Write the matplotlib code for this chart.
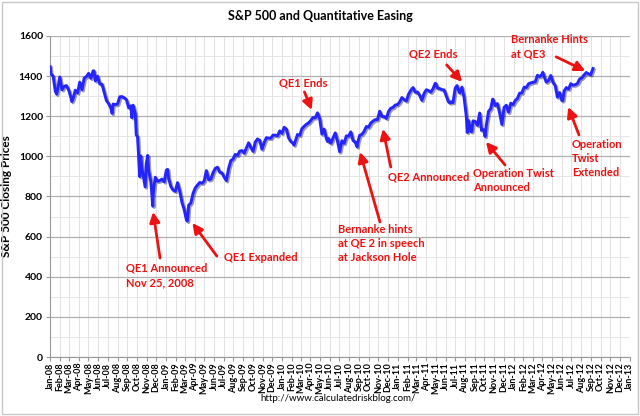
import numpy as np
import pandas as pd
import matplotlib
matplotlib.use("Agg")
import matplotlib.pyplot as plt
import matplotlib.dates as mdates
import matplotlib.patheffects as pe
from matplotlib.patches import Rectangle

plt.rcParams["font.family"] = ["Lato", "DejaVu Sans"]

# weekly closes (Fridays)
close_2008 = [1411, 1401, 1325, 1331, 1396, 1332, 1349, 1353, 1331, 1294, 1288, 1330, 1316,
              1370, 1332, 1390, 1398, 1414, 1389, 1426, 1376, 1400, 1361, 1360, 1318, 1278,
              1263, 1240, 1261, 1258, 1261, 1297, 1298, 1292, 1283, 1242, 1252, 1255, 1213,
              1099, 899, 940, 877, 968, 930, 873, 800, 896, 876, 879, 887, 873]
close_2009 = [932, 890, 850, 832, 826, 869, 827, 770, 735, 683, 756, 768, 816, 843, 857, 870,
              866, 877, 929, 883, 887, 919, 940, 946, 921, 918, 896, 879, 940, 979, 987, 1010,
              1005, 1026, 1029, 1016, 1042, 1068, 1044, 1025, 1071, 1087, 1080, 1036, 1069,
              1093, 1091, 1091, 1106, 1106, 1102, 1127]
close_2010 = [1115, 1145, 1136, 1092, 1074, 1066, 1075, 1109, 1105, 1138, 1150, 1160, 1167,
              1179, 1194, 1192, 1217, 1187, 1111, 1136, 1088, 1089, 1065, 1092, 1117, 1076,
              1023, 1078, 1065, 1102, 1101, 1122, 1079, 1071, 1065, 1105, 1110, 1125, 1149,
              1146, 1166, 1176, 1183, 1183, 1225, 1199, 1199, 1189, 1224, 1240, 1244, 1256, 1258]
close_2011 = [1271, 1293, 1283, 1276, 1310, 1329, 1343, 1320, 1321, 1304, 1279, 1314, 1332,
              1328, 1320, 1337, 1364, 1340, 1338, 1333, 1331, 1300, 1271, 1272, 1268, 1340,
              1344, 1316, 1345, 1292, 1199, 1179, 1124, 1177, 1174, 1154, 1216, 1136, 1131,
              1155, 1224, 1238, 1285, 1253, 1263, 1216, 1159, 1244, 1255, 1220, 1265, 1258]
close_2012 = [1278, 1289, 1315, 1316, 1345, 1343, 1362, 1366, 1370, 1371, 1404, 1397, 1408,
              1398, 1370, 1378, 1403, 1369, 1353, 1295, 1318, 1278, 1325, 1343, 1335, 1362,
              1355, 1357, 1363, 1386, 1391, 1406, 1418, 1411, 1407, 1438]

# intra-week extremes visible on the daily line
extra_dates = ["2008-01-02", "2008-01-22", "2008-03-10", "2008-05-19", "2008-07-15",
               "2008-09-15", "2008-09-29", "2008-10-13", "2008-10-27", "2008-11-04",
               "2008-11-20", "2008-11-24", "2009-01-06", "2009-03-09", "2010-02-08",
               "2010-05-25", "2010-08-26", "2011-05-02", "2011-06-15", "2011-07-07",
               "2011-08-08", "2011-08-22", "2011-09-22", "2011-10-03", "2011-10-27",
               "2012-04-02", "2012-06-04"]
extra_vals = [1447, 1310, 1273, 1426, 1214, 1193, 1106, 1003, 848, 1005, 752, 852, 935,
              677, 1056, 1074, 1047, 1361, 1266, 1353, 1119, 1123, 1129, 1099, 1285,
              1419, 1278]

weekly_vals = close_2008 + close_2009 + close_2010 + close_2011 + close_2012
weekly_dates = pd.date_range("2008-01-04", periods=len(weekly_vals), freq="W-FRI")
s = pd.concat([pd.Series(weekly_vals, index=weekly_dates),
               pd.Series(extra_vals, index=pd.to_datetime(extra_dates))]).sort_index()

# annotations: text, text anchor (date, value), arrow tail, arrow tip
notes = [
    ("QE1 Announced\nNov 25, 2008", ("2008-08-27", 469), ("2008-12-13", 493), ("2008-11-21", 723)),
    ("QE1 Expanded", ("2009-07-04", 494), ("2009-06-10", 503), ("2009-03-25", 668)),
    ("QE1 Ends", ("2009-12-22", 1366), ("2010-03-13", 1321), ("2010-04-05", 1231)),
    ("Bernanke hints\nat QE 2 in speech\nat Jackson Hole", ("2010-06-26", 663), ("2010-11-06", 673), ("2010-09-04", 1022)),
    ("QE2 Announced", ("2010-12-01", 897), ("2010-12-10", 947), ("2010-11-15", 1137)),
    ("QE2 Ends", ("2011-02-06", 1510), ("2011-06-04", 1456), ("2011-07-23", 1371)),
    ("Operation Twist\nAnnounced", ("2011-08-27", 942), ("2011-12-05", 957), ("2011-10-06", 1072)),
    ("Bernanke Hints\nat QE3", ("2011-12-24", 1610), ("2012-05-14", 1496), ("2012-08-14", 1426)),
    ("Operation\nTwist\nExtended", ("2012-07-03", 1087), ("2012-07-25", 1107), ("2012-06-21", 1246)),
]

fig = plt.figure(figsize=(6.4, 4.16), dpi=100)
ax = fig.add_axes([0.078, 0.1418, 0.906, 0.7717])

ax.plot(s.index, s.values, color="#2424ff", lw=2.1, solid_joinstyle="round",
        path_effects=[pe.SimpleLineShadow(offset=(1, -1), shadow_color="#000050", alpha=0.4),
                      pe.Normal()], zorder=3)

ax.set_xlim(pd.Timestamp("2008-01-01"), pd.Timestamp("2013-01-01"))
ax.set_ylim(0, 1600)
ax.set_yticks(np.arange(0, 1601, 200))
ax.set_yticks(np.arange(100, 1600, 200), minor=True)
ax.xaxis.set_major_locator(mdates.MonthLocator())
ax.xaxis.set_major_formatter(mdates.DateFormatter("%b-%y"))
ax.tick_params(axis="x", labelrotation=90, labelsize=6.5, length=3, color="#999999", pad=1)
ax.tick_params(axis="y", labelsize=7.5, length=3, color="#999999", pad=2)
ax.tick_params(axis="y", which="minor", length=0)
for lab in ax.get_xticklabels() + ax.get_yticklabels():
    lab.set_fontweight("bold")

ax.grid(axis="y", which="major", color="#b0b0b0", lw=0.9)
ax.grid(axis="y", which="minor", color="#e6e6e6", lw=0.7)
ax.grid(axis="x", which="major", color="#e2e2e2", lw=0.7)
ax.set_axisbelow(True)
for side in ["top", "right"]:
    ax.spines[side].set_visible(False)
for side in ["left", "bottom"]:
    ax.spines[side].set_color("#999999")

ax.set_ylabel("S&P 500 Closing Prices", fontsize=8.5, fontweight="bold", labelpad=5)
fig.text(0.5, 0.962, "S&P 500 and Quantitative Easing", ha="center", va="center",
         fontsize=9, fontweight="bold")
fig.text(0.528, 0.043, "http://www.calculatedriskblog.com/", ha="center", va="center",
         fontsize=7)

for text, pos, tail, tip in notes:
    n_lines = text.count("\n") + 1
    ax.text(pd.Timestamp(pos[0]), pos[1], text, color="#ee1111", fontsize=8, fontweight="bold",
            ha="left", va="center" if n_lines == 1 else "top", linespacing=1.35,
            clip_on=False, zorder=5)
    ax.annotate("", xy=(pd.Timestamp(tip[0]), tip[1]), xytext=(pd.Timestamp(tail[0]), tail[1]),
                arrowprops=dict(arrowstyle="-|>,head_length=0.6,head_width=0.3",
                                color="#ee1111", lw=2.0, shrinkA=0, shrinkB=0),
                zorder=5, annotation_clip=False)

fig.patches.append(Rectangle((0.003, 0.004), 0.994, 0.992, transform=fig.transFigure,
                             fill=False, edgecolor="#c8c8c8", lw=1.0))

fig.savefig("out.png", dpi=100)
